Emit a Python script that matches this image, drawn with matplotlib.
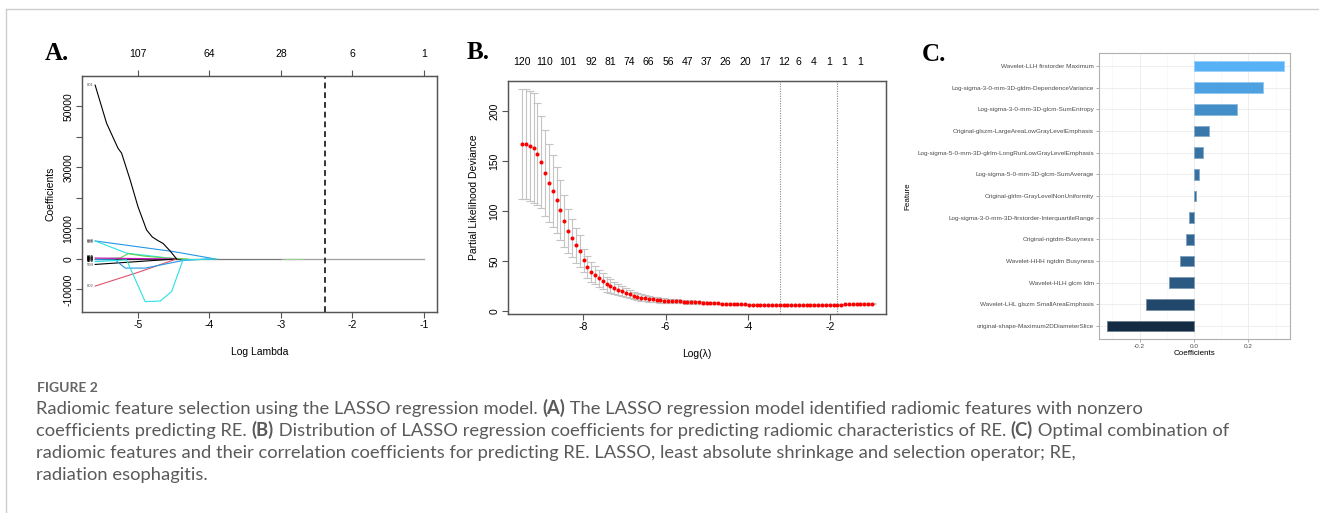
import numpy as np
import matplotlib
matplotlib.use("Agg")
import matplotlib.pyplot as plt
from matplotlib.colors import LinearSegmentedColormap, Normalize
from matplotlib.lines import Line2D

plt.rcParams["font.family"] = ["Liberation Sans", "DejaVu Sans"]
plt.rcParams["axes.unicode_minus"] = False

W, H = 1319, 513

# ---------------- panel A: coefficient paths ----------------
a_top_ticks = [-5, -4, -3, -2, -1]
a_top_labels = ["107", "64", "28", "6", "1"]
a_lambda_min = -2.38

path_801_x = [-5.6, -5.44, -5.28, -5.23, -5.11, -5.0, -4.88, -4.8, -4.72, -4.65, -4.55, -4.46]
path_801_y = [57000, 44500, 36300, 34700, 25900, 17100, 9500, 7200, 6000, 5100, 2600, 0]
path_blue1_x = [-5.6, -4.5, -3.92]
path_blue1_y = [5900, 2400, 0]
path_cyan1_x = [-5.6, -5.16, -4.46]
path_cyan1_y = [5900, 1900, 0]
path_cyan2_x = [-5.6, -5.16, -4.90, -4.69, -4.53, -4.37, -3.9]
path_cyan2_y = [-900, -300, -14000, -13800, -10700, -300, 0]
path_blue2_x = [-5.6, -5.32, -5.18, -4.90, -4.37, -4.0]
path_blue2_y = [-200, -300, -3000, -3000, -500, 0]
path_red_x = [-5.6, -5.0, -4.46]
path_red_y = [-8900, -4400, 0]
path_green_x = [-5.6, -5.25, -5.14, -4.9, -4.6, -4.3]
path_green_y = [0, 300, 1700, 900, 300, 0]
path_black2_x = [-5.6, -4.46]
path_black2_y = [-1800, 0]
path_mag_x = [-5.6, -4.5]
path_mag_y = [300, 0]

# ---------------- panel B: cross-validation curve ----------------
b_loglam = np.linspace(-9.49, -0.98, 92)
b_mean = [167, 167, 165, 163, 157, 149, 138, 128, 120, 111,
          101, 90, 80, 73, 66, 60, 51, 44, 39, 36,
          33, 30, 27, 25, 23, 21.5, 20, 18.5, 17, 15.5,
          14.5, 13.5, 12.8, 12.2, 11.7, 11.2, 10.8, 10.5, 10.2, 10.0,
          9.8, 9.6, 9.4, 9.2, 9.0, 8.8, 8.6, 8.4, 8.2, 8.0,
          7.8, 7.6, 7.4, 7.2, 7.0, 6.9, 6.8, 6.7, 6.6, 6.5,
          6.4, 6.4, 6.3, 6.3, 6.2, 6.2, 6.2, 6.1, 6.1, 6.1,
          6.1, 6.1, 6.1, 6.1, 6.1, 6.1, 6.2, 6.2, 6.2, 6.3,
          6.3, 6.4, 6.4, 6.5, 6.6, 6.7, 6.8, 6.9, 7.0, 7.1, 7.2, 7.3]
b_se = [55, 55, 55, 55, 51, 46, 43, 39, 36, 33,
        30, 26, 22, 19, 17.5, 16, 11.5, 11, 10, 9,
        8.5, 8, 7.5, 7, 6.2, 5.5, 5, 4.5, 4, 3.8,
        3.5, 3.3, 3.1, 2.9, 2.7, 2.5, 2.4, 2.3, 2.2, 2.1,
        2.0, 1.9, 1.8, 1.7, 1.6, 1.5, 1.4, 1.3, 1.2, 1.1,
        1.0, 0.9, 0.8, 0.8, 0.7, 0.7, 0.7, 0.7, 0.7, 0.7,
        0.7, 0.7, 0.7, 0.7, 0.7, 0.7, 0.7, 0.7, 0.7, 0.7,
        0.7, 0.7, 0.7, 0.7, 0.7, 0.7, 0.7, 0.7, 0.7, 0.7,
        0.7, 0.7, 0.7, 0.7, 0.7, 0.7, 0.7, 0.7, 0.7, 0.7, 0.7, 0.7]
b_nz_pos = [-9.49, -8.93, -8.37, -7.80, -7.34, -6.88, -6.41, -5.93, -5.46, -5.0,
            -4.54, -4.07, -3.59, -3.12, -2.76, -2.39, -2.02, -1.66, -1.27]
b_nz_labels = ["120", "110", "101", "92", "81", "74", "66", "56", "47", "37",
               "26", "20", "17", "12", "6", "4", "1", "1", "1"]
b_lambda_min = -3.22
b_lambda_1se = -1.83

# ---------------- panel C: selected features ----------------
features = [
    "Wavelet-LLH firstorder Maximum",
    "Log-sigma-3-0-mm-3D-gldm-DependenceVariance",
    "Log-sigma-3-0-mm-3D-glcm-SumEntropy",
    "Original-glszm-LargeAreaLowGrayLevelEmphasis",
    "Log-sigma-5-0-mm-3D-glrlm-LongRunLowGrayLevelEmphasis",
    "Log-sigma-5-0-mm-3D-glcm-SumAverage",
    "Original-glrlm-GrayLevelNonUniformity",
    "Log-sigma-3-0-mm-3D-firstorder-InterquartileRange",
    "Original-ngtdm-Busyness",
    "Wavelet-HHH ngtdm Busyness",
    "Wavelet-HLH glcm Idm",
    "Wavelet-LHL glszm SmallAreaEmphasis",
    "original-shape-Maximum2DDiameterSlice",
]
coefs = [0.331, 0.252, 0.160, 0.055, 0.032, 0.020, 0.006,
         -0.019, -0.031, -0.050, -0.091, -0.177, -0.318]

fig = plt.figure(figsize=(W / 100, H / 100), dpi=100)


def rect(l, t, r, b):
    return [l / W, 1 - b / H, (r - l) / W, (b - t) / H]


def r_style(ax):
    for s in ax.spines.values():
        s.set_color("#555555")
        s.set_linewidth(0.9)
    ax.tick_params(direction="out", length=4, width=0.8, color="#555555",
                   labelsize=7.5, pad=2)


# ---- panel A
axA = fig.add_axes(rect(82, 76, 437, 312))
axA.plot([-5.6, -4.4], [0, 0], color="#333333", lw=0.9)
axA.plot([-4.4, -3.0], [0, 0], color="#777777", lw=0.9)
axA.plot([-3.0, -1.0], [0, 0], color="#9e9e9e", lw=0.9)
axA.plot([-2.95, -2.7], [0, 0], color="#9ccf93", lw=0.9)
axA.plot(path_blue1_x, path_blue1_y, color="#2297E6", lw=0.8)
axA.plot(path_cyan1_x, path_cyan1_y, color="#28E2E5", lw=0.8)
axA.plot(path_green_x, path_green_y, color="#61D04F", lw=0.8)
axA.plot(path_mag_x, path_mag_y, color="#CD0BBC", lw=0.8)
axA.plot(path_black2_x, path_black2_y, color="black", lw=0.8)
axA.plot(path_red_x, path_red_y, color="#DF536B", lw=0.8)
axA.plot(path_blue2_x, path_blue2_y, color="#2297E6", lw=0.8)
axA.plot(path_cyan2_x, path_cyan2_y, color="#28E2E5", lw=0.8)
axA.plot(path_801_x, path_801_y, color="black", lw=0.8)
axA.axvline(a_lambda_min, color="#333333", lw=1.4, ls=(0, (3, 2)))
lab_kw = dict(fontsize=3, ha="right", va="center")
axA.text(-5.62, 57000, "801", color="#555555", **lab_kw)
axA.text(-5.62, -9000, "802", color="#555555", **lab_kw)
axA.text(-5.62, 5900, "698", color="#333333", **lab_kw)
axA.text(-5.62, 5600, "636", color="#333333", **lab_kw)
for yy in [600, 300, 0, -300, -600]:
    axA.text(-5.62, yy, "600", color="black", fontweight="bold", **lab_kw)
axA.text(-5.62, -1900, "599", color="#555555", **lab_kw)
axA.set_xlim(-5.784, -0.816)
axA.set_ylim(-17400, 60000)
axA.set_xticks([-5, -4, -3, -2, -1])
axA.set_yticks(np.arange(-10000, 50001, 10000))
axA.set_yticklabels(["-10000", "0", "10000", "", "30000", "", "50000"])
r_style(axA)
plt.setp(axA.get_yticklabels(), rotation=90, va="center")
axA.set_xlabel("Log Lambda", fontsize=7.5, labelpad=12)
axA.set_ylabel("Coefficients", fontsize=7.5, labelpad=6)
topA = axA.twiny()
topA.set_xlim(axA.get_xlim())
topA.set_xticks(a_top_ticks)
topA.set_xticklabels(a_top_labels)
r_style(topA)
topA.tick_params(axis="x", pad=8)

# ---- panel B
axB = fig.add_axes(rect(508, 81, 886, 314))
axB.errorbar(b_loglam, b_mean, yerr=b_se, fmt="none", ecolor="#c4c4c4",
             elinewidth=0.8, capsize=2.6, capthick=0.8, zorder=1)
axB.plot(b_loglam, b_mean, "o", color="#ff0000", ms=2.9, mec="none", zorder=3)
axB.axvline(b_lambda_min, color="#888888", lw=0.8, ls=(0, (1, 1.2)))
axB.axvline(b_lambda_1se, color="#888888", lw=0.8, ls=(0, (1, 1.2)))
axB.set_xlim(-9.83, -0.64)
axB.set_ylim(-3, 230)
axB.set_xticks([-8, -6, -4, -2])
axB.set_yticks([0, 50, 100, 150, 200])
r_style(axB)
plt.setp(axB.get_yticklabels(), rotation=90, va="center")
axB.set_xlabel("Log(\u03bb)", fontsize=7.5, labelpad=12)
axB.set_ylabel("Partial Likelihood Deviance", fontsize=7.5, labelpad=8)
topB = axB.twiny()
topB.set_xlim(axB.get_xlim())
topB.set_xticks(b_nz_pos)
topB.set_xticklabels(b_nz_labels)
r_style(topB)
topB.tick_params(axis="x", length=0, pad=10)

# ---- panel C
axC = fig.add_axes(rect(1099, 53, 1290, 339))
cmap = LinearSegmentedColormap.from_list("gg", ["#132B43", "#56B1F7"])
norm = Normalize(min(coefs), max(coefs))
ypos = np.arange(len(features))[::-1]
fills = [cmap(norm(c)) for c in coefs]
edges = [tuple(min(1, v * 0.6 + 0.4) for v in f[:3]) for f in fills]
axC.barh(ypos, coefs, height=0.5, color=fills, edgecolor=edges, linewidth=0.7, zorder=3)
axC.set_xlim(-0.349, 0.353)
axC.set_ylim(-0.6, len(features) - 0.4)
axC.set_yticks(ypos)
axC.set_yticklabels(features)
axC.set_xticks([-0.2, 0.0, 0.2])
axC.set_xticklabels(["-0.2", "0.0", "0.2"])
axC.set_xticks([-0.3, -0.1, 0.1, 0.3], minor=True)
axC.grid(True, which="major", color="#ebebeb", lw=0.6, zorder=0)
axC.grid(True, which="minor", axis="x", color="#f4f4f4", lw=0.4, zorder=0)
for s in axC.spines.values():
    s.set_color("#b0b0b0")
    s.set_linewidth(0.8)
axC.tick_params(which="major", length=2, width=0.5, color="#888888",
                labelsize=4.6, labelcolor="#4d4d4d", pad=1.5)
axC.tick_params(which="minor", length=0)
axC.set_axisbelow(True)
axC.set_xlabel("Coefficients", fontsize=5.8, labelpad=1)
axC.set_ylabel("Feature", fontsize=5.8, labelpad=4)

# ---- panel letters
letter_kw = dict(family=["Liberation Serif", "DejaVu Serif"], fontweight="bold",
                 fontsize=18, va="baseline", ha="left")
fig.text(45 / W, 1 - 60 / H, "A.", **letter_kw)
fig.text(467 / W, 1 - 59 / H, "B.", **letter_kw)
fig.text(922 / W, 1 - 61 / H, "C.", **letter_kw)

# ---- frame of the figure card
fig.add_artist(Line2D([6 / W, 1318 / W], [1 - 9 / H, 1 - 9 / H], color="#cccccc", lw=1))
fig.add_artist(Line2D([6 / W, 6 / W], [1 - 9 / H, 0], color="#cccccc", lw=1))

# ---- caption
cap_font = ["Lato", "DejaVu Sans"]
cap_col = "#5a5a5a"
fig.text(37 / W, 1 - 392 / H, "FIGURE 2", family=cap_font, fontsize=10,
         fontweight="bold", color="#666666", va="baseline")

caption_lines = [
    [("Radiomic feature selection using the LASSO regression model. ", False), ("(A)", True),
     (" The LASSO regression model identified radiomic features with nonzero", False)],
    [("coefficients predicting RE. ", False), ("(B)", True),
     (" Distribution of LASSO regression coefficients for predicting radiomic characteristics of RE. ", False),
     ("(C)", True), (" Optimal combination of", False)],
    [("radiomic features and their correlation coefficients for predicting RE. LASSO, least absolute shrinkage and selection operator; RE,", False)],
    [("radiation esophagitis.", False)],
]
caption_base = [414, 436, 458, 480]

renderer = fig.canvas.get_renderer()
for parts, base in zip(caption_lines, caption_base):
    x = 36
    for txt, bold in parts:
        t = fig.text(x / W, 1 - base / H, txt, family=cap_font, fontsize=13.2,
                     fontweight="bold" if bold else "normal", color=cap_col, va="baseline")
        x += t.get_window_extent(renderer).width

fig.savefig("out.png", dpi=100, facecolor="white")
